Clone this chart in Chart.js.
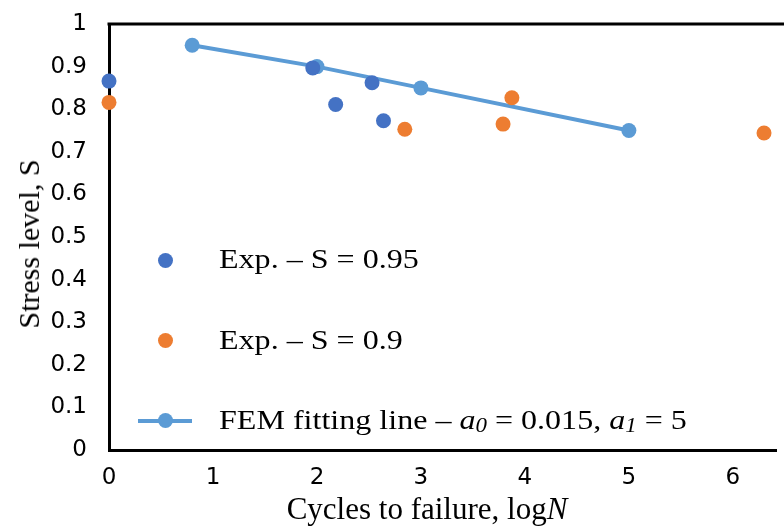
<!DOCTYPE html>
<html><head><meta charset="utf-8">
<script src="https://cdn.jsdelivr.net/npm/chart.js@4/dist/chart.umd.min.js"></script>
<style>
html,body{margin:0;padding:0;background:#fff;}
#wrap{position:relative;width:784px;height:527px;overflow:hidden;}
#c{position:absolute;left:0;top:0;}
.t{position:absolute;font-family:"Liberation Serif","Times New Roman",serif;font-size:28px;color:#000;white-space:nowrap;line-height:1;}
.lg{transform-origin:0 50%;transform:translateY(-50%) scaleX(1.145);}
.dot{position:absolute;width:15px;height:15px;border-radius:50%;}
</style></head>
<body>
<div id="wrap">
<canvas id="c" width="784" height="527"></canvas>
<div class="t" id="ytitle" style="font-size:30px;left:29px;top:244px;transform:translate(-50%,-50%) rotate(-90deg);">Stress level, S</div>
<div class="t" id="xtitle" style="font-size:31px;left:427px;top:508px;transform:translate(-50%,-50%);">Cycles to failure, log<i>N</i></div>
<div class="dot" style="left:158px;top:253px;background:#4472C4;"></div>
<div class="t lg" style="left:219px;top:259px;">Exp. – S = 0.95</div>
<div class="dot" style="left:158px;top:333px;background:#ED7D31;"></div>
<div class="t lg" style="left:219px;top:340px;">Exp. – S = 0.9</div>
<div style="position:absolute;left:138px;top:419px;width:54px;height:4px;background:#5B9BD5;"></div>
<div class="dot" style="left:158px;top:413px;background:#5B9BD5;"></div>
<div class="t lg" style="left:219px;top:420px;">FEM fitting line – <i>a<span style="font-size:20px;position:relative;top:3px;">0</span></i> = 0.015, <i>a<span style="font-size:20px;position:relative;top:3px;">1</span></i> = 5</div>
</div>
<script>
const exp95X = [0, 1.96, 2.18, 2.53, 2.64];
const exp95Y = [0.866, 0.897, 0.811, 0.862, 0.773];
const exp90X = [0, 2.845, 3.79, 3.875, 6.30];
const exp90Y = [0.816, 0.753, 0.765, 0.827, 0.744];
const femX = [0.8, 2.0, 3.0, 5.0];
const femY = [0.95, 0.9, 0.85, 0.75];
const xTicks = [0, 1, 2, 3, 4, 5, 6];
const yTicks = [0, 0.1, 0.2, 0.3, 0.4, 0.5, 0.6, 0.7, 0.8, 0.9, 1];

const pts = (xs, ys) => xs.map((x, i) => ({x, y: ys[i]}));
const tickFont = {family: "'DejaVu Sans',sans-serif", size: 23};

const topBorder = {
  id: 'topBorder',
  afterDraw(chart) {
    const {ctx, chartArea} = chart;
    ctx.save();
    ctx.strokeStyle = '#000';
    ctx.lineWidth = 3;
    ctx.beginPath();
    ctx.moveTo(chartArea.left - 1.5, chartArea.top);
    ctx.lineTo(chart.width, chartArea.top);
    ctx.stroke();
    ctx.restore();
  }
};

new Chart(document.getElementById('c'), {
  type: 'scatter',
  data: {
    datasets: [
      {label: 'FEM', data: pts(femX, femY), showLine: true, borderColor: '#5B9BD5', backgroundColor: '#5B9BD5',
       borderWidth: 4, pointRadius: 7.5, pointHoverRadius: 7.5, pointBorderWidth: 0, clip: false, order: 3},
      {label: 'Exp. – S = 0.95', data: pts(exp95X, exp95Y), backgroundColor: '#4472C4', borderColor: '#4472C4',
       pointRadius: 7.5, pointBorderWidth: 0, clip: false, order: 1},
      {label: 'Exp. – S = 0.9', data: pts(exp90X, exp90Y), backgroundColor: '#ED7D31', borderColor: '#ED7D31',
       pointRadius: 7.5, pointBorderWidth: 0, clip: false, order: 2}
    ]
  },
  options: {
    responsive: false,
    animation: false,
    layout: {padding: {top: 24, right: 0, left: 0, bottom: 0}},
    plugins: {legend: {display: false}, tooltip: {enabled: false}},
    scales: {
      x: {
        type: 'linear', min: 0, max: 6.42,
        afterBuildTicks: s => { s.ticks = xTicks.map(v => ({value: v})); },
        afterFit: s => { s.height = 77; s.paddingLeft = 0; s.paddingRight = 0; },
        grid: {display: false, drawTicks: false},
        border: {display: true, color: '#000', width: 3},
        ticks: {color: '#000', font: tickFont, padding: 14, maxRotation: 0, autoSkip: false,
                callback: v => String(v)}
      },
      y: {
        type: 'linear', min: 0, max: 1,
        afterBuildTicks: s => { s.ticks = yTicks.map(v => ({value: v})); },
        afterFit: s => { s.width = 109; s.paddingTop = 0; s.paddingBottom = 0; },
        grid: {display: false, drawTicks: false},
        border: {display: true, color: '#000', width: 3},
        ticks: {color: '#000', font: tickFont, padding: 22, autoSkip: false,
                callback: v => String(Number(v.toFixed(1)))}
      }
    }
  },
  plugins: [topBorder]
});
</script>
</body></html>
